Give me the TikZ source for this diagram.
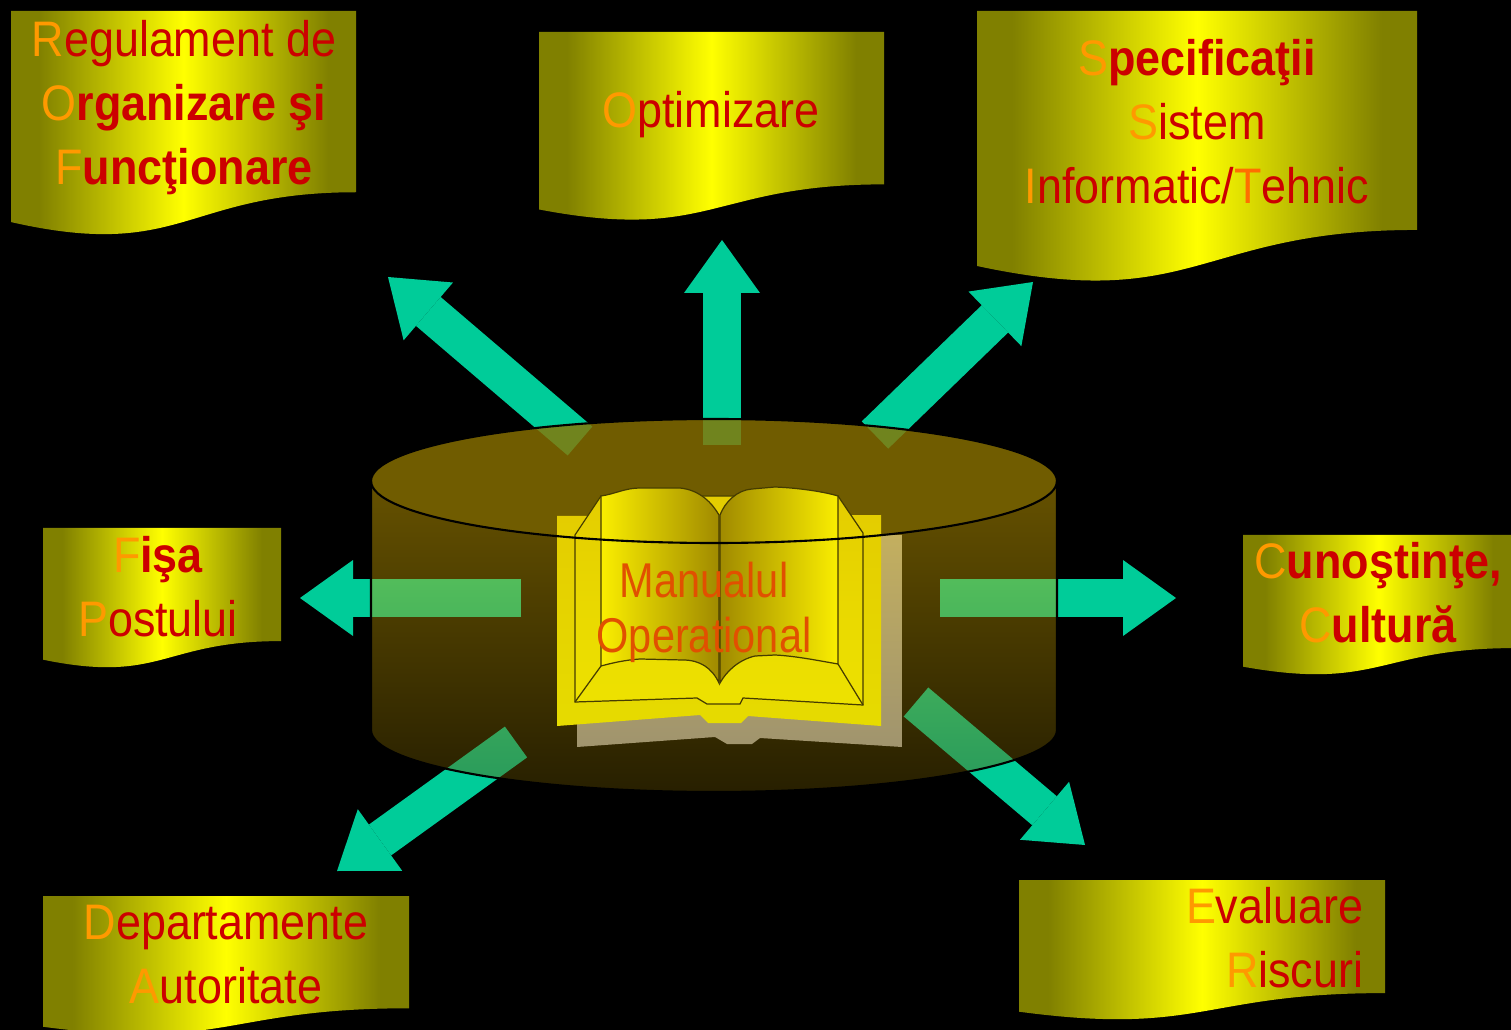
\documentclass[tikz,border=0pt]{standalone}
\usepackage{fontspec}
\newfontfamily\labfont[FakeStretch=0.9]{Liberation Sans}
\newfontfamily\manfont[FakeStretch=0.85]{Liberation Sans}
\usetikzlibrary{arrows.meta,calc}

\definecolor{docolive}{RGB}{128,128,0}
\definecolor{docyellow}{RGB}{255,255,0}
\definecolor{txtred}{RGB}{204,0,0}
\definecolor{txtorange}{RGB}{255,153,0}
\definecolor{txtorangeT}{RGB}{255,110,0}
\definecolor{titlecol}{RGB}{225,80,0}
\definecolor{arrowgreen}{RGB}{0,204,153}
\definecolor{cyltop}{RGB}{140,115,0}
\definecolor{cylhigh}{RGB}{255,205,0}
\definecolor{cyllow}{RGB}{100,80,0}
\definecolor{bookyellow}{RGB}{250,238,0}
\definecolor{bookgold}{RGB}{228,205,0}
\definecolor{bookdark}{RGB}{160,138,0}
\definecolor{bookline}{RGB}{70,60,0}
\definecolor{shadowtop}{RGB}{195,175,95}
\definecolor{shadowlow}{RGB}{160,148,110}

\pgfdeclarehorizontalshading{docshading}{100bp}{color(0bp)=(docolive); color(29bp)=(docolive); color(50bp)=(docyellow); color(71bp)=(docolive); color(100bp)=(docolive)}

\newcommand\ini[1]{{\mdseries\textcolor{txtorange}{#1}}}
\newcommand\docshape[4]{\shade[docfill] (#1,#2) -- (#3,#2) -- (#3,{#2+0.802*#4}) .. controls ({(#1+#3)/2},{#2+0.802*#4}) and ({(#1+#3)/2},{#2+1.1075*#4}) .. (#1,{#2+0.934*#4}) -- cycle;}

\begin{document}
\begin{tikzpicture}[x=0.1mm,y=-0.1mm,
  docfill/.style={shading=docshading},
  lab/.style={inner sep=0pt,align=center,text=txtred,font=\labfont\fontsize{14.2}{18.2}\selectfont},
  flowarrow/.style={draw=arrowgreen,line width=3.8mm,-{Triangle[length=5.3mm,width=7.6mm,line width=0pt]}},
  cylbody/.style={top color=cylhigh,bottom color=cyllow,fill opacity=0.4},
  cyllid/.style={fill=cyltop,fill opacity=0.8},
  cylline/.style={draw=black,line width=0.6pt},
  bookedge/.style={draw=bookline,line width=0.35pt}]
\useasboundingbox (0,0) rectangle (1511,1030);
\fill[black] (0,0) rectangle (1511,1030);

\docshape{11}{11}{356}{226}
\docshape{539}{32}{884}{190}
\docshape{977}{11}{1417}{273}
\docshape{43}{528}{281}{141}
\docshape{1243}{535}{1515}{141}
\docshape{43}{896}{409}{140}
\docshape{1019}{880}{1385}{141}

\node[lab] (rof) at (184,108) {\ini{R}egulament de\\ {\bfseries\ini{O}rganizare şi}\\ {\bfseries\ini{F}uncţionare}};
\node[lab] (opt) at (711,115) {\ini{O}ptimizare};
\node[lab] (spec) at (1197,122) {{\bfseries\ini{S}pecificaţii}\\ \ini{S}istem\\ \ini{I}nformatic/\textcolor{txtorangeT}{T}ehnic};
\node[lab] (fisa) at (158,587) {{\bfseries\ini{F}işa}\\ \ini{P}ostului};
\node[lab] (cult) at (1378,593) {\bfseries\ini{C}unoştinţe,\\ \bfseries\ini{C}ultură};
\node[lab] (dep) at (226,955) {\ini{D}epartamente\\ \ini{A}utoritate};
\node[lab,align=right,anchor=east] (risk) at (1364,938) {\ini{E}valuare\\ \ini{R}iscuri};

\coordinate (t-rof) at (580,441); \coordinate (h-rof) at (388,277);
\coordinate (t-opt) at (722,445); \coordinate (h-opt) at (722,240);
\coordinate (t-spec) at (875,435); \coordinate (h-spec) at (1033,282);
\coordinate (t-fisa) at (521,598); \coordinate (h-fisa) at (300,598);
\coordinate (t-cult) at (940,598); \coordinate (h-cult) at (1176,598);
\coordinate (t-dep) at (516,742); \coordinate (h-dep) at (337,871);
\coordinate (t-risk) at (916,702); \coordinate (h-risk) at (1085,845);
\foreach \n in {rof,opt,spec,fisa,cult,dep,risk}
  \draw[flowarrow] (t-\n) -- (h-\n);

\coordinate (lid) at (714,481);
\shade[cylbody] (371,481) -- (371,730) arc[start angle=180,end angle=360,x radius=34.3mm,y radius=6.2mm] -- (1057,481) arc[start angle=360,end angle=180,x radius=34.3mm,y radius=6.2mm] -- cycle;
\fill[cyllid] (lid) ellipse[x radius=34.3mm,y radius=6.2mm];

\shade[top color=shadowtop,bottom color=shadowlow] (577,535) -- (902,535) -- (902,747) -- (760,738) -- (752,744) -- (727,744) -- (715,737) -- (577,747) -- cycle;
\shade[top color=bookgold,middle color=bookyellow,bottom color=bookyellow!92!black] (557,516) -- (881,515) -- (881,726) -- (748,716) -- (741,723) -- (708,723) -- (700,715) -- (557,726) -- cycle;
\shade[top color=bookgold,bottom color=bookyellow!95!black,bookedge] (575,535) -- (601,496) -- (838,496) -- (863,533) -- (863,705) -- (743,698) -- (740,704) -- (707,704) -- (697,698) -- (575,702) -- cycle;
\shade[left color=bookyellow,right color=bookdark,bookedge] (601,496) .. controls (615,494) and (625,488) .. (640,488) -- (680,488) .. controls (700,490) and (712,503) .. (719,515) -- (719,683) .. controls (712,668) and (700,660) .. (683,660) -- (640,659) .. controls (625,660) and (612,663) .. (601,666) -- cycle;
\shade[left color=bookdark,right color=bookyellow,bookedge] (720,515) .. controls (725,502) and (737,490) .. (752,489) -- (775,487) .. controls (800,488) and (825,492) .. (838,496) -- (838,664) .. controls (815,660) and (795,656) .. (775,655) -- (755,656) .. controls (738,660) and (726,672) .. (720,683) -- cycle;
\draw[bookedge] (601,666) -- (575,702) (838,664) -- (863,705);

\node[inner sep=0pt,align=center,text=titlecol,font=\manfont\fontsize{13.9}{15.65}\selectfont] (manual) at (704,612) {Manualul\\ Operational};

\draw[cylline] (lid) ellipse[x radius=34.3mm,y radius=6.2mm];
\draw[cylline] (371,481) -- (371,730) arc[start angle=180,end angle=360,x radius=34.3mm,y radius=6.2mm] -- (1057,481);
\end{tikzpicture}
\end{document}
